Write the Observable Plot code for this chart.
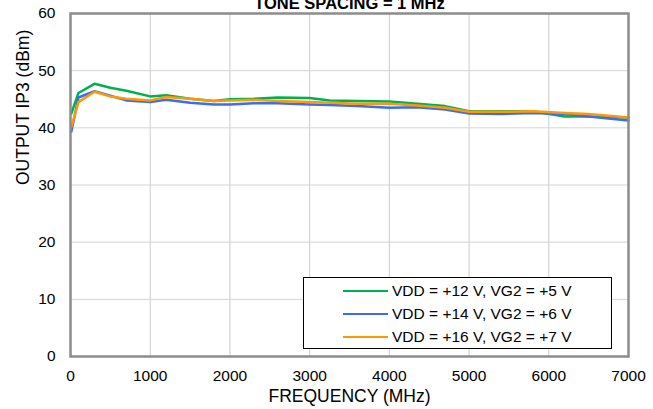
<!DOCTYPE html>
<html>
<head>
<meta charset="utf-8">
<script src="https://cdn.jsdelivr.net/npm/d3@7"></script>
<script src="https://cdn.jsdelivr.net/npm/@observablehq/plot@0.6"></script>
<style>
  html, body { margin: 0; padding: 0; background: #fff; }
  #wrap { position: relative; width: 653px; height: 409px; overflow: hidden; font-family: "Liberation Sans", Arial, sans-serif; }
  #legend { position: absolute; left: 303px; top: 277px; width: 309px; height: 72px; border: 1px solid #000; background: #fff; box-sizing: border-box; }
  .row { position: absolute; left: 0; height: 20px; display: flex; align-items: center; font-size: 15.5px; color: #000; white-space: pre; }
  .sw { width: 45px; height: 0; border-top: 2.5px solid; margin-left: 39px; margin-right: 4px; }
</style>
</head>
<body>
<div id="wrap"></div>
<script>
const title = "TONE SPACING = 1 MHz";
const xLabel = "FREQUENCY (MHz)";
const yLabel = "OUTPUT IP3 (dBm)";
const xTicks = [0, 1000, 2000, 3000, 4000, 5000, 6000, 7000];
const yTicks = [0, 10, 20, 30, 40, 50, 60];
const seriesNames = ["VDD = +12 V, VG2 = +5 V", "VDD = +14 V, VG2 = +6 V", "VDD = +16 V, VG2 = +7 V"];
const seriesColors = ["#00b050", "#3a6cf5", "#ff9900"];
const freq = [10, 100, 300, 500, 700, 1000, 1200, 1500, 1800, 2000, 2300, 2600, 3000, 3250, 3600, 4000, 4350, 4700, 5000, 5400, 5800, 6200, 6500, 7000];
const vdd12 = [42.5, 46.1, 47.7, 47.0, 46.5, 45.5, 45.7, 45.1, 44.7, 45.0, 45.1, 45.3, 45.2, 44.8, 44.7, 44.6, 44.2, 43.8, 42.9, 42.9, 42.9, 42.0, 42.0, 41.8];
const vdd14 = [39.3, 45.3, 46.4, 45.6, 44.8, 44.5, 44.9, 44.4, 44.1, 44.1, 44.3, 44.3, 44.1, 44.0, 43.8, 43.5, 43.6, 43.2, 42.5, 42.4, 42.6, 42.4, 42.0, 41.3];
const vdd16 = [40.1, 44.5, 46.3, 45.5, 45.1, 44.8, 45.4, 45.1, 44.7, 44.8, 44.9, 44.7, 44.5, 44.4, 44.2, 44.2, 43.9, 43.5, 42.8, 42.8, 42.9, 42.6, 42.4, 41.8];

const allSeries = [vdd12, vdd14, vdd16];
const data = [];
allSeries.forEach((vals, i) => vals.forEach((v, j) => data.push({f: freq[j], v, s: seriesNames[i]})));

const chart = Plot.plot({
  width: 653,
  height: 409,
  marginLeft: 70,
  marginRight: 25,
  marginTop: 13,
  marginBottom: 53,
  style: {fontFamily: "'Liberation Sans', Arial, sans-serif", fontSize: "15.5px", color: "#000", background: "#fff"},
  x: {domain: [0, 7000]},
  y: {domain: [0, 60]},
  color: {domain: seriesNames, range: seriesColors},
  marks: [
    Plot.gridX(xTicks, {stroke: "#cccccc", strokeOpacity: 1, strokeWidth: 1}),
    Plot.gridY(yTicks, {stroke: "#d4d4d4", strokeOpacity: 1, strokeWidth: 1}),
    Plot.line(data, {x: "f", y: "v", z: "s", stroke: "s", strokeWidth: 2.5, strokeLinejoin: "round"}),
    Plot.frame({stroke: "#8c8c8c", strokeWidth: 2.5}),
    Plot.axisX(xTicks, {tickSize: 0, tickPadding: 13, fontSize: 15.5, label: null, tickFormat: d => String(d)}),
    Plot.axisY(yTicks, {tickSize: 0, tickPadding: 15, fontSize: 15.5, label: null, tickFormat: d => String(d)}),
    Plot.text([xLabel], {frameAnchor: "bottom", dy: 45, fontSize: 17.5}),
    Plot.text([yLabel], {frameAnchor: "left", dx: -47, rotate: -90, fontSize: 17.5}),
    Plot.text([title], {frameAnchor: "top", dy: -16, fontSize: 16.5, fontWeight: "bold"})
  ]
});
const wrap = document.getElementById("wrap");
wrap.appendChild(chart);

const legend = document.createElement("div");
legend.id = "legend";
seriesNames.forEach((name, i) => {
  const row = document.createElement("div");
  row.className = "row";
  row.style.top = (3 + i * 23) + "px";
  const sw = document.createElement("span");
  sw.className = "sw";
  sw.style.borderTopColor = seriesColors[i];
  const t = document.createElement("span");
  t.textContent = name;
  row.appendChild(sw);
  row.appendChild(t);
  legend.appendChild(row);
});
wrap.appendChild(legend);
</script>
</body>
</html>
